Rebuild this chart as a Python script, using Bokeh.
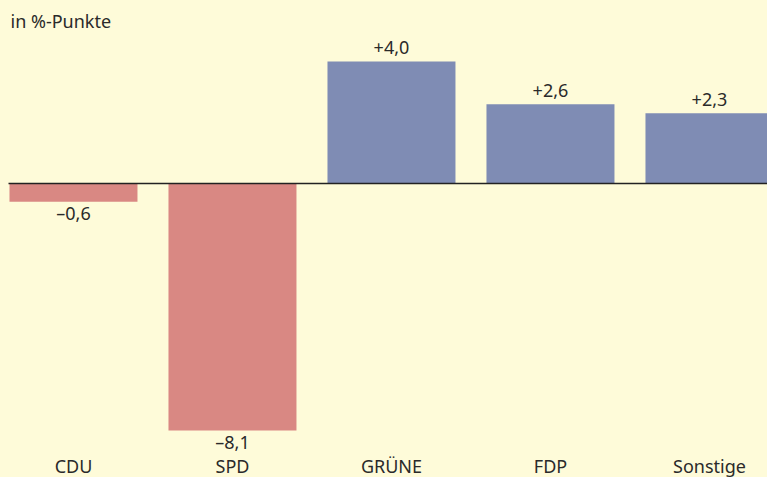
from bokeh.plotting import figure
from bokeh.models import Range1d, ColumnDataSource, Label
from bokeh.core.properties import value
from bokeh.embed import file_html
from bokeh.resources import INLINE

categories = ["CDU", "SPD", "GRÜNE", "FDP", "Sonstige"]
changes = [-0.6, -8.1, 4.0, 2.6, 2.3]
value_labels = ["\u20130,6", "\u20138,1", "+4,0", "+2,6", "+2,3"]
unit_label = "in %-Punkte"

BG = "#FEFBD9"
RED = "#D98883"
BLUE = "#7F8CB4"
TXT = "#2a2a2a"
FONT = "Noto Sans"
FS = "18px"

W, H = 767, 477
X0, X1 = -0.459, 4.365
Y0, Y1 = -9.64, 6.0

xs = list(range(len(categories)))
colors = [RED if v < 0 else BLUE for v in changes]

src = ColumnDataSource(dict(x=xs, top=[max(v, 0) for v in changes],
                            bottom=[min(v, 0) for v in changes],
                            color=colors))

p = figure(width=W, height=H, output_backend="svg", toolbar_location=None,
           x_range=Range1d(X0, X1), y_range=Range1d(Y0, Y1),
           min_border=0, min_border_left=0, min_border_right=0,
           min_border_top=0, min_border_bottom=0)
p.axis.visible = False
p.grid.visible = False
p.outline_line_color = None
p.background_fill_color = BG
p.border_fill_color = BG

p.vbar(x="x", top="top", bottom="bottom", width=0.805, fill_color="color",
       line_color=None, source=src)

# zero line, starting a few pixels in from the left edge
x_line0 = X0 + 8 * (X1 - X0) / W
p.segment(x0=[x_line0], y0=[0], x1=[X1], y1=[0], line_color="#222222", line_width=1.6)

pos = ColumnDataSource(dict(x=[x for x, v in zip(xs, changes) if v >= 0],
                            y=[v for v in changes if v >= 0],
                            t=[l for l, v in zip(value_labels, changes) if v >= 0]))
neg = ColumnDataSource(dict(x=[x for x, v in zip(xs, changes) if v < 0],
                            y=[v for v in changes if v < 0],
                            t=[l for l, v in zip(value_labels, changes) if v < 0]))

p.text(x="x", y="y", text="t", source=pos, text_align="center", text_baseline="bottom",
       y_offset=-7, text_font=value(FONT), text_font_size=FS, text_color=TXT)
p.text(x="x", y="y", text="t", source=neg, text_align="center", text_baseline="top",
       y_offset=-1, text_font=value(FONT), text_font_size=FS, text_color=TXT)

cat_src = ColumnDataSource(dict(x=xs, y=[Y0] * len(xs), t=categories))
p.text(x="x", y="y", text="t", source=cat_src, text_align="center", text_baseline="bottom",
       y_offset=0, text_font=value(FONT), text_font_size=FS, text_color=TXT)

p.add_layout(Label(x=10, y=H - 8, x_units="screen", y_units="screen", text=unit_label,
                   text_align="left", text_baseline="top", text_font=FONT,
                   text_font_size=FS, text_color=TXT))

html = file_html(p, INLINE)
html = html.replace("<head>", "<head><style>html,body{background:%s;margin:0;padding:0;overflow:hidden;}</style>" % BG, 1)
open("out.html", "w").write(html)
